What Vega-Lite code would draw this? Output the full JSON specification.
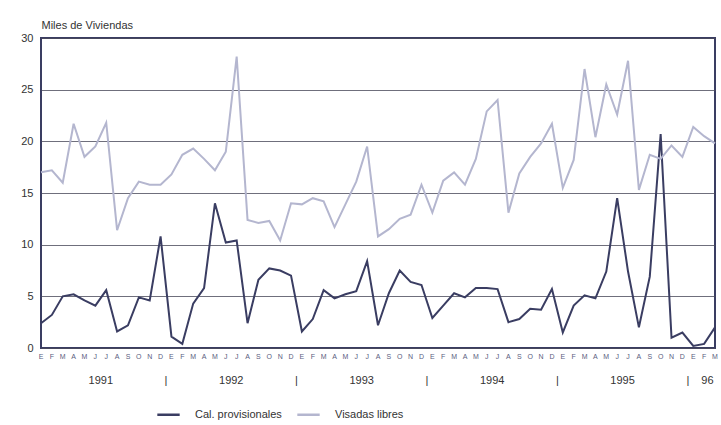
{
  "$schema": "https://vega.github.io/schema/vega-lite/v6.json",
  "width": 674,
  "height": 310,
  "padding": {"left": 20, "top": 19, "right": 4, "bottom": 0},
  "background": "white",
  "config": {"font": "Liberation Sans", "view": {"stroke": "#3a3d62", "strokeWidth": 2}},
  "datasets": {
    "serie": [
      {"i":0,"c":2.4,"v":17},{"i":1,"c":3.2,"v":17.2},{"i":2,"c":5,"v":16},{"i":3,"c":5.2,"v":21.7},{"i":4,"c":4.6,"v":18.5},{"i":5,"c":4.1,"v":19.5},{"i":6,"c":5.6,"v":21.8},{"i":7,"c":1.6,"v":11.4},{"i":8,"c":2.2,"v":14.5},{"i":9,"c":4.9,"v":16.1},{"i":10,"c":4.6,"v":15.8},{"i":11,"c":10.8,"v":15.8},
      {"i":12,"c":1.1,"v":16.8},{"i":13,"c":0.4,"v":18.7},{"i":14,"c":4.3,"v":19.3},{"i":15,"c":5.8,"v":18.3},{"i":16,"c":14,"v":17.2},{"i":17,"c":10.2,"v":19},{"i":18,"c":10.4,"v":28.2},{"i":19,"c":2.4,"v":12.4},{"i":20,"c":6.6,"v":12.1},{"i":21,"c":7.7,"v":12.3},{"i":22,"c":7.5,"v":10.4},{"i":23,"c":7.0,"v":14},
      {"i":24,"c":1.6,"v":13.9},{"i":25,"c":2.8,"v":14.5},{"i":26,"c":5.6,"v":14.2},{"i":27,"c":4.8,"v":11.7},{"i":28,"c":5.2,"v":13.9},{"i":29,"c":5.5,"v":16.1},{"i":30,"c":8.4,"v":19.5},{"i":31,"c":2.2,"v":10.8},{"i":32,"c":5.3,"v":11.5},{"i":33,"c":7.5,"v":12.5},{"i":34,"c":6.4,"v":12.9},{"i":35,"c":6.1,"v":15.8},
      {"i":36,"c":2.9,"v":13.1},{"i":37,"c":4.1,"v":16.2},{"i":38,"c":5.3,"v":17},{"i":39,"c":4.9,"v":15.8},{"i":40,"c":5.8,"v":18.3},{"i":41,"c":5.8,"v":22.9},{"i":42,"c":5.7,"v":24},{"i":43,"c":2.5,"v":13.1},{"i":44,"c":2.8,"v":16.9},{"i":45,"c":3.8,"v":18.5},{"i":46,"c":3.7,"v":19.8},{"i":47,"c":5.7,"v":21.7},
      {"i":48,"c":1.5,"v":15.5},{"i":49,"c":4.1,"v":18.2},{"i":50,"c":5.1,"v":27},{"i":51,"c":4.8,"v":20.4},{"i":52,"c":7.4,"v":25.5},{"i":53,"c":14.5,"v":22.6},{"i":54,"c":7.4,"v":27.8},{"i":55,"c":2.0,"v":15.3},{"i":56,"c":6.9,"v":18.7},{"i":57,"c":20.7,"v":18.3},{"i":58,"c":1.0,"v":19.6},{"i":59,"c":1.5,"v":18.5},
      {"i":60,"c":0.2,"v":21.4},{"i":61,"c":0.4,"v":20.5},{"i":62,"c":2.0,"v":19.8}
    ],
    "meses": [
      {"x":0,"l":"E"},{"x":1,"l":"F"},{"x":2,"l":"M"},{"x":3,"l":"A"},{"x":4,"l":"M"},{"x":5,"l":"J"},{"x":6,"l":"J"},{"x":7,"l":"A"},{"x":8,"l":"S"},{"x":9,"l":"O"},{"x":10,"l":"N"},{"x":11,"l":"D"},
      {"x":12,"l":"E"},{"x":13,"l":"F"},{"x":14,"l":"M"},{"x":15,"l":"A"},{"x":16,"l":"M"},{"x":17,"l":"J"},{"x":18,"l":"J"},{"x":19,"l":"A"},{"x":20,"l":"S"},{"x":21,"l":"O"},{"x":22,"l":"N"},{"x":23,"l":"D"},
      {"x":24,"l":"E"},{"x":25,"l":"F"},{"x":26,"l":"M"},{"x":27,"l":"A"},{"x":28,"l":"M"},{"x":29,"l":"J"},{"x":30,"l":"J"},{"x":31,"l":"A"},{"x":32,"l":"S"},{"x":33,"l":"O"},{"x":34,"l":"N"},{"x":35,"l":"D"},
      {"x":36,"l":"E"},{"x":37,"l":"F"},{"x":38,"l":"M"},{"x":39,"l":"A"},{"x":40,"l":"M"},{"x":41,"l":"J"},{"x":42,"l":"J"},{"x":43,"l":"A"},{"x":44,"l":"S"},{"x":45,"l":"O"},{"x":46,"l":"N"},{"x":47,"l":"D"},
      {"x":48,"l":"E"},{"x":49,"l":"F"},{"x":50,"l":"M"},{"x":51,"l":"A"},{"x":52,"l":"M"},{"x":53,"l":"J"},{"x":54,"l":"J"},{"x":55,"l":"A"},{"x":56,"l":"S"},{"x":57,"l":"O"},{"x":58,"l":"N"},{"x":59,"l":"D"},
      {"x":60,"l":"E"},{"x":61,"l":"F"},{"x":62,"l":"M"}
    ],
    "years": [
      {"x":5.5,"t":"1991"},{"x":11.5,"t":"|"},{"x":17.5,"t":"1992"},{"x":23.5,"t":"|"},{"x":29.5,"t":"1993"},{"x":35.5,"t":"|"},{"x":41.5,"t":"1994"},{"x":47.5,"t":"|"},{"x":53.5,"t":"1995"},{"x":59.5,"t":"|"},{"x":61.3,"t":"96"}
    ]
  },
  "layer": [
    {
      "data": {"name": "serie"},
      "transform": [
        {"fold": ["c", "v"], "as": ["k", "val"]},
        {"lookup": "k", "from": {"data": {"values": [{"k":"c","s":"Cal. provisionales"},{"k":"v","s":"Visadas libres"}]}, "key": "k", "fields": ["s"]}}
      ],
      "mark": {"type": "line", "strokeWidth": 2},
      "encoding": {
        "x": {"field": "i", "type": "quantitative", "scale": {"domain": [0, 62], "nice": false}, "axis": null},
        "y": {"field": "val", "type": "quantitative", "scale": {"domain": [0, 30]},
          "axis": {"values": [0,5,10,15,20,25,30], "title": "Miles de Viviendas", "titleAngle": 0, "titleAlign": "left", "titleBaseline": "bottom", "titleX": 0, "titleY": -8, "titleFontWeight": "normal", "titleFontSize": 11, "titleColor": "#333",
            "labelFontSize": 11, "labelColor": "#333", "ticks": false, "domain": false, "labelPadding": 8, "gridColor": "#4a4a5a", "gridWidth": 0.8}},
        "color": {"field": "s", "type": "nominal", "scale": {"domain": ["Cal. provisionales", "Visadas libres"], "range": ["#3a3d62", "#b4b6cf"]},
          "legend": {"title": null, "orient": "none", "legendX": 115, "legendY": 364, "direction": "horizontal", "symbolType": "stroke", "symbolStrokeWidth": 2.5, "symbolSize": 500, "labelFontSize": 11, "labelColor": "#333", "labelOffset": 14, "columnPadding": 10, "padding": 0}}
      }
    },
    {
      "data": {"name": "meses"},
      "mark": {"type": "text", "fontSize": 7, "color": "#5a5d80", "clip": false, "baseline": "middle"},
      "encoding": {
        "x": {"field": "x", "type": "quantitative"},
        "y": {"datum": -0.9},
        "text": {"field": "l"}
      }
    },
    {
      "data": {"name": "years"},
      "mark": {"type": "text", "fontSize": 11, "color": "#333", "clip": false, "baseline": "middle"},
      "encoding": {
        "x": {"field": "x", "type": "quantitative"},
        "y": {"datum": -3.2},
        "text": {"field": "t"}
      }
    }
  ]
}
